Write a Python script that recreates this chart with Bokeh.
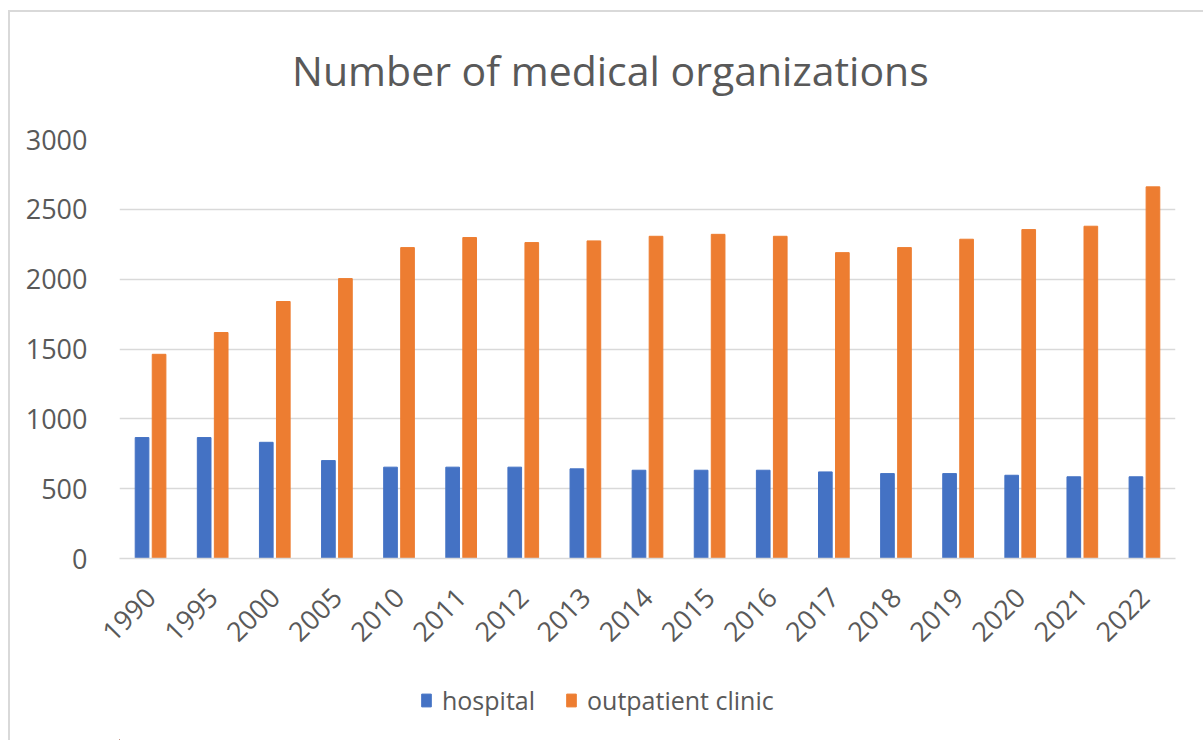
import math
from bokeh.plotting import figure
from bokeh.layouts import column
from bokeh.models import (FactorRange, Legend, LegendItem, SingleIntervalTicker,
                          ColumnDataSource, Label, Range1d)
from bokeh.transform import dodge
from bokeh.embed import file_html
from bokeh.resources import INLINE

years = ["1990", "1995", "2000", "2005", "2010", "2011", "2012", "2013", "2014",
         "2015", "2016", "2017", "2018", "2019", "2020", "2021", "2022"]
hospital = [866, 866, 832, 701, 654, 654, 654, 642, 632,
            632, 632, 620, 608, 608, 596, 585, 585]
outpatient = [1462, 1618, 1840, 2004, 2226, 2298, 2262, 2274, 2307,
              2321, 2307, 2190, 2226, 2286, 2355, 2379, 2661]
series_names = ["hospital", "outpatient clinic"]
series_colors = ["#4472c4", "#ed7d31"]
title_text = "Number of medical organizations"

src = ColumnDataSource(dict(year=years, hospital=hospital, outpatient=outpatient))

FONT = "Open Sans"
TXT = "#595959"
GRID = "#d9d9d9"
FW = 1054
ML, MR = 109, 30


def strip(h):
    f = figure(frame_width=FW, frame_height=h, x_range=Range1d(0, FW), y_range=Range1d(0, h),
               output_backend="svg", toolbar_location=None,
               min_border_left=ML, min_border_right=MR, min_border_top=0, min_border_bottom=0)
    f.axis.visible = False
    f.grid.visible = False
    f.outline_line_color = None
    return f


# title strip
t = strip(97)
t.styles = {"margin-left": "8px", "margin-top": "10px",
            "border-left": "2px solid #d9d9d9", "border-top": "2px solid #d9d9d9"}
t.add_layout(Label(x=490, y=41, text=title_text, text_align="center", text_baseline="middle",
                   text_font=FONT, text_font_size="41px", text_color=TXT))

# main chart
p = figure(x_range=FactorRange(*years, range_padding=0), y_range=(0, 3000),
           frame_width=FW, frame_height=419, output_backend="svg", toolbar_location=None,
           min_border_left=ML, min_border_right=MR, min_border_top=30, min_border_bottom=125)
p.styles = {"margin-left": "8px", "border-left": "2px solid #d9d9d9"}

r1 = p.vbar(x=dodge("year", -0.137, range=p.x_range), top="hospital", width=0.22,
            source=src, fill_color=series_colors[0], line_color=series_colors[0])
r2 = p.vbar(x=dodge("year", 0.137, range=p.x_range), top="outpatient", width=0.22,
            source=src, fill_color=series_colors[1], line_color=series_colors[1])

p.outline_line_color = None
p.xgrid.grid_line_color = None
p.ygrid.grid_line_color = GRID
p.ygrid.grid_line_width = 1.5

p.yaxis.ticker = SingleIntervalTicker(interval=500)
p.yaxis.axis_line_color = None
p.yaxis.major_tick_line_color = None
p.yaxis.minor_tick_line_color = None
p.yaxis.major_label_text_font = FONT
p.yaxis.major_label_text_font_size = "27px"
p.yaxis.major_label_text_color = TXT
p.yaxis.major_label_standoff = 26

p.xaxis.axis_line_color = GRID
p.xaxis.axis_line_width = 1.5
p.xaxis.major_tick_line_color = None
p.xaxis.minor_tick_line_color = None
p.xaxis.major_label_orientation = math.pi / 4
p.xaxis.major_label_text_font = FONT
p.xaxis.major_label_text_font_size = "27px"
p.xaxis.major_label_text_color = TXT
p.xaxis.major_label_standoff = 28

# legend strip
q = strip(57)
q.styles = {"margin-left": "8px", "border-left": "2px solid #d9d9d9"}
proxy = ColumnDataSource(dict(x=[-500], top=[1]))
l1 = q.vbar(x="x", top="top", width=1, source=proxy,
            fill_color=series_colors[0], line_color=series_colors[0])
l2 = q.vbar(x="x", top="top", width=1, source=proxy,
            fill_color=series_colors[1], line_color=series_colors[1])

legend = Legend(items=[LegendItem(label=series_names[0], renderers=[l1]),
                       LegendItem(label=series_names[1], renderers=[l2])],
                orientation="horizontal", location=(301, 23))
legend.label_text_font = FONT
legend.label_text_font_size = "25px"
legend.label_text_color = TXT
legend.glyph_width = 12
legend.glyph_height = 16
legend.label_standoff = 10
legend.spacing = 30
legend.padding = 0
legend.margin = 0
legend.border_line_color = None
legend.background_fill_alpha = 0
q.add_layout(legend, "center")

layout = column(t, p, q, spacing=0)
open("out.html", "w").write(file_html(layout, INLINE))
